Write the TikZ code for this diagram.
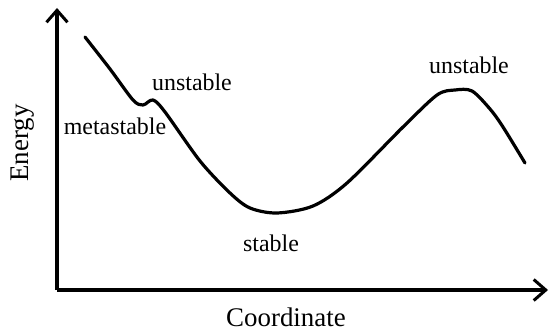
\documentclass[tikz,border=0pt]{standalone}
\usepackage{fontspec}
\setmainfont{Liberation Serif}
\usetikzlibrary{arrows.meta,positioning}

\begin{document}
\begin{tikzpicture}[x=1bp, y=1bp,
  axis/.style={line width=3.2bp, -{Straight Barb[length=12bp, width=21bp, line width=3bp]}},
  curve/.style={line width=3.2bp, line join=round, line cap=round},
  lbl/.style={font=\fontsize{24}{28}\selectfont, inner sep=0pt},
  axlbl/.style={font=\fontsize{27}{31}\selectfont, inner sep=0pt}
]
  \useasboundingbox (0,0) rectangle (549,331);

  % axes
  \coordinate (origin) at (57,41);
  \coordinate (ytip) at (57,323);
  \coordinate (xtip) at (548,41);
  \draw[axis] (origin) -- (ytip);
  \draw[axis] (origin) -- (xtip);

  % energy profile
  \draw[curve] plot[smooth, tension=0.5] coordinates {
    (85,294) (110,262) (133,231) (143,226) (153,231) (165,219)
    (200,170) (230,138) (250,123) (277,118) (313,125) (347,148)
    (403,204) (437,236) (455,241) (472,240) (490,222)
    (503,204) (525,168)};

  % labels
  \node[lbl] (unst1) at (192,249) {unstable};
  \node[lbl] (meta) at (115,205) {metastable};
  \node[lbl] (stab) at (271,88) {stable};
  \node[lbl] (unst2) at (469,266) {unstable};
  \node[axlbl, rotate=90] (ylab) at (23,188) {Energy};
  \node[axlbl] (xlab) at (286,14) {Coordinate};
\end{tikzpicture}
\end{document}
